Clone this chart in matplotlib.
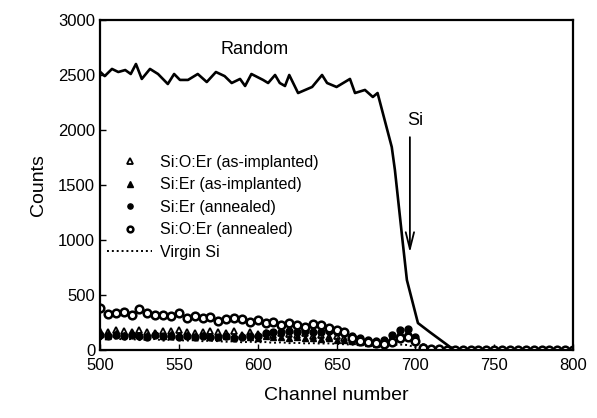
import matplotlib
matplotlib.use("Agg")
import matplotlib.pyplot as plt

plt.rcParams["font.family"] = ["Liberation Sans", "DejaVu Sans"]

# espectro "Random" (vértices)
random_ch = [500, 503, 507.6, 511.6, 516, 519.5, 522.8, 526.5, 531.7, 536.8,
             543, 547, 550.7, 555.8, 562, 567.7, 573.5, 579, 583.5, 588.8,
             592, 596, 603.4, 606.6, 611, 614, 617.3, 620, 625.6, 634.5,
             640.8, 644, 650, 658.5, 661.7, 668, 673, 676, 685, 687,
             692, 694.6, 701.6, 709, 722, 726, 760, 800]
random_counts = [2530, 2490, 2555, 2527, 2545, 2509, 2600, 2464, 2555, 2509,
                 2418, 2509, 2455, 2455, 2509, 2436, 2527, 2490, 2427, 2464,
                 2400, 2509, 2455, 2427, 2500, 2427, 2400, 2500, 2336, 2391,
                 2500, 2427, 2391, 2464, 2336, 2364, 2300, 2336, 1845, 1636,
                 972, 636, 245, 164, 27, 5, 3, 3]

channels = list(range(500, 805, 5))

sioer_ann = [380, 330, 335, 345, 320, 375, 340, 320, 320, 310,
             335, 295, 310, 290, 300, 260, 285, 290, 282, 258,
             273, 245, 255, 230, 245, 228, 210, 240, 225, 200,
             185, 165, 110, 80, 70, 60, 50, 75, 110, 120,
             80, 20, 8, 5, 3, 3, 2, 3, 2, 2,
             3, 2, 2, 3, 2, 2, 2, 3, 2, 2, 2]
sioer_as = [175, 165, 185, 170, 160, 180, 165, 150, 170, 175,
            180, 160, 150, 165, 175, 160, 150, 170, 140, 160,
            145, 155, 140, 150, 145, 135, 150, 125, 135, 120,
            130, 110, 95, 80, 70, 60, 65, 110, 150, 160,
            100, 25, 10, 5, 3, 3, 2, 2, 2, 2,
            2, 2, 2, 2, 2, 2, 2, 2, 2, 2, 2]
sier_as = [155, 145, 150, 140, 155, 135, 140, 150, 130, 145,
           135, 140, 125, 135, 130, 120, 130, 115, 125, 120,
           110, 125, 115, 120, 110, 115, 105, 110, 100, 105,
           95, 90, 80, 70, 60, 55, 60, 120, 165, 175,
           110, 30, 10, 5, 3, 2, 2, 2, 2, 2,
           2, 2, 2, 2, 2, 2, 2, 2, 2, 2, 2]
sier_ann = [135, 130, 140, 125, 135, 130, 120, 135, 125, 130,
            120, 125, 115, 130, 120, 115, 125, 110, 120, 125,
            130, 150, 165, 160, 170, 165, 175, 160, 165, 170,
            160, 150, 130, 110, 95, 80, 90, 140, 180, 190,
            120, 30, 10, 5, 3, 2, 2, 2, 2, 2,
            2, 2, 2, 2, 2, 2, 2, 2, 2, 2, 2]
virgin = [100, 95, 105, 95, 100, 90, 95, 100, 85, 95,
          90, 85, 90, 80, 85, 80, 75, 80, 70, 75,
          70, 72, 65, 70, 62, 65, 60, 62, 58, 60,
          55, 52, 48, 45, 42, 40, 38, 45, 50, 45,
          25, 8, 3, 1, 0, 0, 0, 0, 0, 0,
          0, 0, 0, 0, 0, 0, 0, 0, 0, 0, 0]

fig = plt.figure(figsize=(5.97, 4.18), dpi=100)
ax = fig.add_axes([0.1675, 0.1627, 0.7925, 0.7895])

ax.plot(random_ch, random_counts, color="black", lw=1.9)
ax.plot(channels, virgin, color="black", lw=1.4, ls=(0, (1, 1.5)), label="Virgin Si")
ax.plot(channels, sioer_as, ls="none", marker="^", ms=5, mfc="white", mec="black",
        mew=1.3, label="Si:O:Er (as-implanted)")
ax.plot(channels, sier_as, ls="none", marker="^", ms=5, color="black",
        label="Si:Er (as-implanted)")
ax.plot(channels, sier_ann, ls="none", marker="o", ms=5, color="black",
        label="Si:Er (annealed)")
ax.plot(channels, sioer_ann, ls="none", marker="o", ms=5.5, mfc="white", mec="black",
        mew=1.8, label="Si:O:Er (annealed)")

ax.text(598, 2730, "Random", ha="center", va="center", fontsize=13)
ax.text(700, 2090, "Si", ha="center", va="center", fontsize=13)
ax.annotate("", xy=(696.5, 860), xytext=(696.5, 1960),
            arrowprops=dict(arrowstyle="->,head_length=1.2,head_width=0.3",
                            color="black", lw=1.3, mutation_scale=10))

h, l = ax.get_legend_handles_labels()
order = [1, 2, 3, 4, 0]
leg = ax.legend([h[i] for i in order], [l[i] for i in order],
                loc="upper left", bbox_to_anchor=(-0.005, 0.62), frameon=False,
                fontsize=11.5, handlelength=2.8, labelspacing=0.47,
                handletextpad=0.5, borderaxespad=0.2, markerscale=0.75)

ax.set_xlim(500, 800)
ax.set_ylim(0, 3000)
ax.set_xticks(range(500, 801, 50))
ax.set_yticks(range(0, 3001, 500))
ax.tick_params(direction="in", length=4, width=1, labelsize=12)
ax.tick_params(axis="x", pad=6)
for s in ax.spines.values():
    s.set_linewidth(1.6)

ax.set_xlabel("Channel number", fontsize=14, labelpad=10)
ax.set_ylabel("Counts", fontsize=14, labelpad=8)

plt.savefig("out.png", dpi=100)
